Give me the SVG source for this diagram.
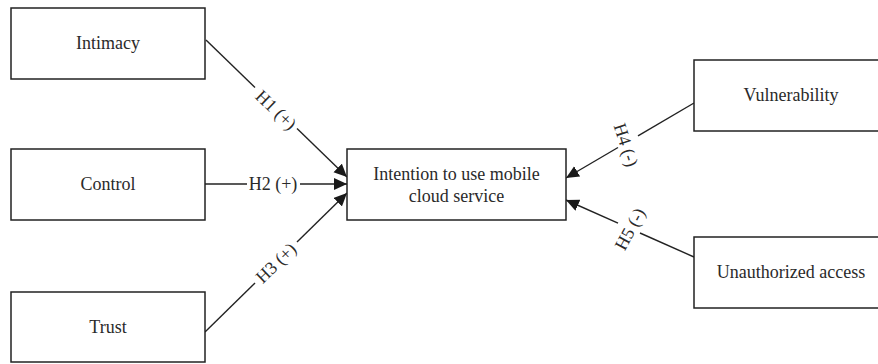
<svg xmlns="http://www.w3.org/2000/svg" width="878" height="364" viewBox="0 0 878 364">
<style>
.box{fill:#fff;stroke:#222;stroke-width:1.5}
.t{font-family:"Liberation Serif","Times New Roman",serif;font-size:18px;fill:#2a2a2a;text-anchor:middle}
.c{stroke:#222;stroke-width:1.4;fill:none}
</style>
<defs>
<marker id="ah" markerUnits="userSpaceOnUse" markerWidth="16" markerHeight="14" refX="13" refY="6" orient="auto">
<path d="M0,0 L13,6 L0,12 Z" fill="#1a1a1a"/>
</marker>
</defs>
<rect width="878" height="364" fill="#fff"/>
<g id="connectors">
<line class="c" x1="206" y1="40" x2="255" y2="87.6"/>
<line class="c" x1="297" y1="128.4" x2="347" y2="177" marker-end="url(#ah)"/>
<line class="c" x1="205" y1="184" x2="247" y2="184"/>
<line class="c" x1="300" y1="184" x2="347" y2="184" marker-end="url(#ah)"/>
<line class="c" x1="205" y1="332" x2="255" y2="283"/>
<line class="c" x1="297" y1="242" x2="347" y2="193" marker-end="url(#ah)"/>
<line class="c" x1="694" y1="103" x2="638" y2="135.8"/>
<line class="c" x1="618" y1="147.5" x2="566" y2="178" marker-end="url(#ah)"/>
<line class="c" x1="694" y1="257" x2="640" y2="233"/>
<line class="c" x1="618" y1="223.1" x2="566" y2="200" marker-end="url(#ah)"/>
<text class="t" transform="translate(276,110) rotate(44)" y="6">H1 (+)</text>
<text class="t" x="273" y="190">H2 (+)</text>
<text class="t" transform="translate(276,263) rotate(-44)" y="6">H3 (+)</text>
<text class="t" transform="translate(626,145) rotate(72)" y="6">H4 (-)</text>
<text class="t" transform="translate(630,229) rotate(-62)" y="6">H5 (-)</text>
</g>
<g id="intimacy"><rect class="box" x="11" y="8" width="194" height="71"/><text class="t" x="108" y="49">Intimacy</text></g>
<g id="control"><rect class="box" x="11" y="149" width="194" height="71"/><text class="t" x="108" y="190">Control</text></g>
<g id="trust"><rect class="box" x="11" y="292" width="194" height="70"/><text class="t" x="108" y="333">Trust</text></g>
<g id="intention"><rect class="box" x="347" y="149" width="219" height="71"/><text class="t" x="456.5" y="180">Intention to use mobile</text><text class="t" x="456.5" y="202">cloud service</text></g>
<g id="vulnerability"><rect class="box" x="694" y="60" width="194" height="71"/><text class="t" x="791" y="101">Vulnerability</text></g>
<g id="unauthorized"><rect class="box" x="694" y="237" width="194" height="71"/><text class="t" x="791" y="278">Unauthorized access</text></g>
</svg>
